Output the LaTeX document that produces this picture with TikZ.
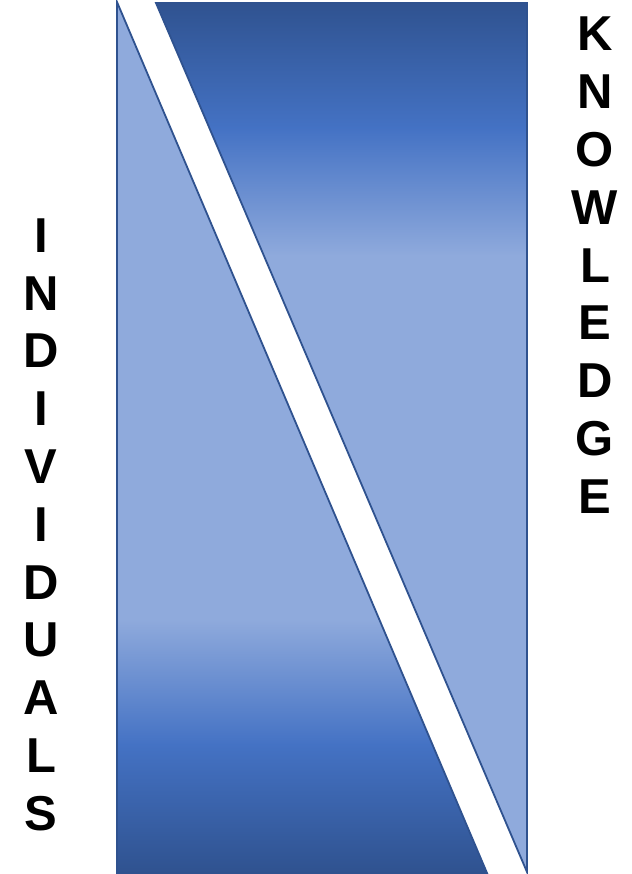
\documentclass[tikz,border=0pt]{standalone}
\usepackage{fontspec}
\setmainfont{Liberation Sans}
\definecolor{dk}{RGB}{47,82,143}
\definecolor{md}{RGB}{68,114,196}
\definecolor{lt}{RGB}{143,170,220}
\tikzset{
  lett/.style={inner sep=0pt, font=\fontsize{49}{58}\selectfont\bfseries, text=black},
  edge/.style={draw=dk, line width=1.8pt, line join=miter}
}
\begin{document}
\begin{tikzpicture}[x=1pt,y=-1pt]
\useasboundingbox (0,0) rectangle (631,874);
% left triangle
\begin{scope}
\clip (117,2) -- (487,873) -- (117,873) -- cycle;
\fill[lt] (100,0) rectangle (540,620);
\shade[top color=lt,bottom color=md] (100,619) rectangle (540,745);
\shade[top color=md,bottom color=dk] (100,744) rectangle (540,874);
\end{scope}
\draw[edge] (117,2) -- (487,873) -- (117,873) -- cycle;
% right triangle
\begin{scope}
\clip (156,3) -- (527,3) -- (527,872) -- cycle;
\shade[top color=dk,bottom color=md] (140,0) rectangle (540,129);
\shade[top color=md,bottom color=lt] (140,128) rectangle (540,256);
\fill[lt] (140,255) rectangle (540,874);
\end{scope}
\draw[edge] (156,3) -- (527,3) -- (527,872) -- cycle;
% labels
\foreach \l [count=\i] in {I,N,D,I,V,I,D,U,A,L,S}
  \node[lett] (ind\i) at (41,{235.5+(\i-1)*57.8}) {\l};
\foreach \l [count=\i] in {K,N,O,W,L,E,D,G,E}
  \node[lett] (kno\i) at (595,{34+(\i-1)*57.8}) {\l};
\end{tikzpicture}
\end{document}
